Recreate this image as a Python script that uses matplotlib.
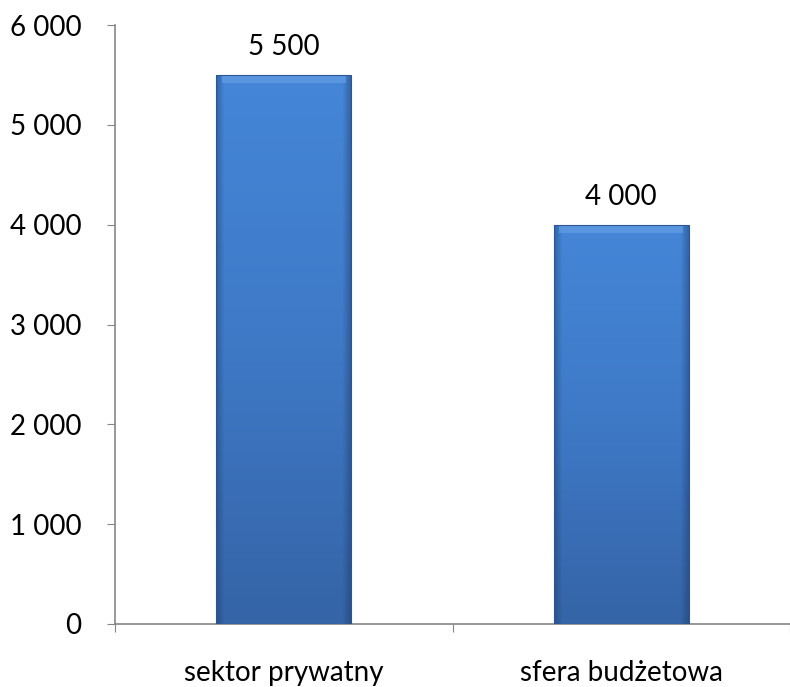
import matplotlib
matplotlib.use("Agg")
import matplotlib.pyplot as plt
import numpy as np
from matplotlib.colors import LinearSegmentedColormap

categories = ["sektor prywatny", "sfera budżetowa"]
values = [5500, 4000]
value_labels = ["5 500", "4 000"]
yticks = [0, 1000, 2000, 3000, 4000, 5000, 6000]
ytick_labels = ["0", "1 000", "2 000", "3 000", "4 000", "5 000", "6 000"]

plt.rcParams['font.family'] = ['Lato', 'DejaVu Sans']

fig = plt.figure(figsize=(7.90, 6.87), dpi=100)
ax = fig.add_axes([115/790, 1-624/687, 1-115/790, (624-25)/687])

x = np.arange(len(categories))
bars = ax.bar(x, values, width=0.4, color="#4080d2", linewidth=0, zorder=2)

grad = np.linspace(0, 1, 256).reshape(-1, 1)
cmap = LinearSegmentedColormap.from_list("g", ["#3564a7", "#3e79c6", "#4586d8"])
hx = np.linspace(0, 1, 200)
side = np.clip(np.minimum(hx / 0.06, (1 - hx) / 0.06), 0, 1)
for b in bars:
    x0, y0 = b.get_x(), b.get_y()
    w, h = b.get_width(), b.get_height()
    im = ax.imshow(grad, extent=[x0, x0 + w, y0, y0 + h], origin="lower", cmap=cmap,
                   aspect="auto", zorder=3)
    im.set_clip_path(b)
    shade = np.zeros((1, 200, 4))
    shade[..., 0:3] = np.array([0.1, 0.2, 0.35])
    shade[..., 3] = (1 - side) * 0.4
    im2 = ax.imshow(shade, extent=[x0, x0 + w, y0, y0 + h], aspect="auto", zorder=4)
    im2.set_clip_path(b)
    ax.bar(x0 + w/2, 80, bottom=y0 + h - 80, width=w * 0.92, color="#6aa2e6",
           linewidth=0, zorder=5, alpha=0.6)
    ax.bar(x0 + w/2, h, width=w, fill=False, edgecolor="#2b5693", linewidth=0.8, zorder=6)

for xi, v, lab in zip(x, values, value_labels):
    ax.text(xi, v + 150, lab, ha="center", va="bottom", fontsize=20, color="black")

ax.set_xlim(-0.5, 1.5 - 5/340)
ax.set_ylim(0, 6000)
ax.set_yticks(yticks)
ax.set_yticklabels(ytick_labels, fontsize=20)
ax.set_xticks([-0.5, 0.5, 1.5])
ax.set_xticklabels([])
ax.set_xticks(x, minor=True)
ax.set_xticklabels(categories, minor=True, fontsize=20)
ax.tick_params(axis="x", which="minor", length=0, pad=26)
ax.tick_params(axis="x", which="major", length=6, color="#868686", direction="out")
ax.tick_params(axis="y", length=6, color="#868686", direction="out", pad=18)

for s in ["top", "right"]:
    ax.spines[s].set_visible(False)
for s in ["left", "bottom"]:
    ax.spines[s].set_color("#868686")
    ax.spines[s].set_linewidth(1.2)

fig.savefig("out.png", dpi=100)
